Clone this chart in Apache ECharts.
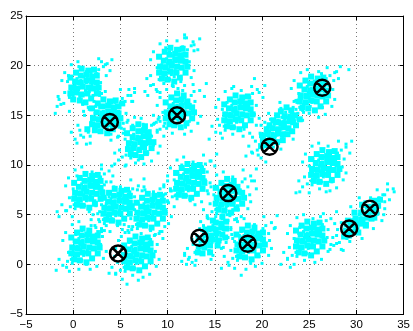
<!DOCTYPE html>
<html>
<head>
<meta charset="utf-8">
<script src="https://cdn.jsdelivr.net/npm/echarts@6/dist/echarts.min.js"></script>
<style>
  html, body { margin: 0; padding: 0; background: #fff; }
  #chart { width: 413px; height: 331px; }
</style>
</head>
<body>
<div id="chart"></div>
<script>
// Axis ticks
const xTicks = [-5, 0, 5, 10, 15, 20, 25, 30, 35];
const yTicks = [-5, 0, 5, 10, 15, 20, 25];

// Cluster centres found by the algorithm (drawn as circled crosses)
const centroids = [
  [3.88, 14.33], [11.0, 15.0], [26.38, 17.77], [20.8, 11.83], [16.43, 7.17],
  [13.37, 2.67], [18.49, 2.07], [4.75, 1.1], [29.23, 3.6], [31.43, 5.6]
];

// Sample points, one array per blob: scattered fringe samples ...
const blobA = [[1.0,18.0],[0.6,17.7],[1.4,18.3],[0.3,17.4],[1.8,18.6],[0.8,18.5],[1.3,17.5],[0.0,17.0],[2.1,19.0],[0.5,18.2],[1.6,17.9],[1.1,18.9],[0.9,17.2],[-0.2,17.6],[2.3,18.4],[1.9,19.3],[0.2,18.1],[1.5,18.7],[0.7,16.9],[2.5,19.2],[-0.4,16.8],[1.2,17.1],[0.4,18.7],[1.7,17.4],[2.0,18.1],[0.1,16.5],[2.7,19.6],[1.4,19.4],[-0.1,17.9],[0.9,18.3],
  [-1.0,16.2],[-1.5,16.6],[3.2,19.9],[3.6,20.2],[2.9,18.3],[-0.6,18.4],[0.2,19.4],[1.9,16.6],[3.0,20.4],[-0.9,17.3],[2.6,17.6],[0.6,19.9],[-1.7,15.9],[1.0,16.1],[3.5,19.0],[-0.5,19.0],[2.8,17.0],
  [-0.9,19.3],[-0.2,20.1],[-1.2,18.5],[3.1,16.7],[2.4,15.9],[3.4,17.4],[0.5,20.4],[1.7,15.6]];
const blobB = [[10.5,20.0],[10.1,19.6],[10.9,20.4],[9.8,19.2],[11.2,20.8],[10.3,20.5],[10.8,19.5],[9.5,18.9],[11.5,21.2],[10.0,20.2],[11.0,19.9],[10.6,21.0],[10.4,19.1],[9.3,19.5],[11.7,20.6],[11.3,21.5],[9.7,20.0],[10.9,21.3],[10.2,18.6],[11.9,21.0],[9.1,18.6],[10.7,18.9],[9.9,20.7],[11.1,19.3],[11.6,21.9],[9.6,18.2],[12.1,21.6],[10.6,20.3],[9.4,20.1],[10.2,21.4],
  [8.5,18.1],[8.8,17.6],[12.5,22.0],[11.8,22.8],[12.3,20.4],[8.9,19.8],[9.8,21.8],[11.4,18.4],[12.8,21.5],[8.2,19.0],[11.0,22.5],[9.2,17.3],[7.9,17.0],[12.7,22.4],[10.5,18.0],[9.0,21.0],[12.0,19.3],
  [8.5,21.4],[9.2,22.2],[8.2,20.6],[12.5,18.8],[11.8,18.0],[12.8,19.5],[9.9,22.5],[11.1,17.7],[11.8,23.1]];
const blobC = [[3.4,14.9],[3.0,14.5],[3.8,15.3],[2.6,14.1],[4.2,15.6],[3.2,15.4],[3.7,14.4],[2.2,13.8],[4.6,16.0],[2.9,15.0],[4.0,14.8],[3.5,15.9],[3.1,13.9],[1.9,14.3],[4.8,15.4],[4.4,16.3],[2.5,14.7],[3.9,16.1],[2.7,13.4],[5.0,16.2],[1.6,13.3],[3.6,13.8],[2.3,15.2],[4.3,14.3],[5.2,16.7],[1.8,12.9],[5.5,16.4],[3.3,16.5],[2.0,14.9],[4.1,15.0],[4.7,14.9],[2.8,15.8],
  [0.8,13.0],[0.2,12.6],[6.1,17.0],[6.3,16.4],[5.6,15.2],[1.2,15.0],[2.2,16.4],[4.0,13.1],[5.9,17.6],[0.5,14.0],[4.9,13.8],[1.4,12.1],[-0.2,13.3],[3.0,17.2],[6.5,17.3],[1.0,16.2],[1.6,15.8],[5.3,14.2],
  [1.4,16.2],[2.1,17.0],[1.1,15.4],[5.4,13.6],[4.7,12.8],[5.7,14.3],[2.8,17.3],[4.0,12.5]];
const blobD = [[7.0,12.4],[6.6,12.0],[7.4,12.8],[6.3,11.6],[7.7,13.2],[6.8,12.9],[7.2,11.9],[6.0,11.3],[8.0,13.4],[6.5,12.6],[7.5,12.3],[7.1,13.5],[6.9,11.4],[5.8,11.9],[7.9,12.8],[7.6,13.8],[6.2,12.3],[7.3,13.1],[6.7,11.0],[8.2,13.0],[5.6,11.0],[7.0,11.7],[6.4,13.1],[7.8,12.1],[6.1,10.7],[8.3,14.0],[7.4,14.1],
  [5.2,10.8],[4.9,11.5],[8.6,14.2],[8.9,13.3],[5.5,12.6],[6.3,14.0],[7.9,11.2],[6.6,10.2],[8.5,12.0],[5.3,13.2],[7.2,14.7],[6.9,10.5],[9.0,14.6],[5.6,10.0],
  [5.1,13.7],[5.8,14.5],[4.8,12.9],[9.0,11.2],[8.3,10.4],[9.2,11.9],[6.5,14.8],[7.5,10.1]];
const blobE = [[11.2,15.5],[10.8,15.1],[11.6,15.9],[10.5,14.7],[11.9,16.2],[11.0,16.0],[11.4,15.0],[10.2,14.4],[12.2,16.5],[10.7,15.6],[11.7,15.4],[11.3,16.5],[11.1,14.5],[10.0,15.0],[12.0,15.8],[11.8,16.8],[10.4,15.4],[11.5,16.3],[10.9,14.0],[12.4,16.1],[9.7,14.2],[11.2,14.8],[10.6,16.2],[12.1,15.2],[9.9,13.7],[12.5,17.0],
  [9.2,13.6],[8.8,14.3],[12.8,17.4],[12.9,16.4],[9.5,15.3],[10.3,16.8],[12.3,14.4],[10.5,13.2],[11.6,17.5],[9.1,14.8],[12.6,15.5],[9.8,16.3],[11.9,13.8],
  [9.2,16.8],[9.9,17.6],[8.9,16.0],[13.2,14.2],[12.5,13.4],[13.5,14.9],[10.6,17.9],[11.8,13.1]];
const blobF = [[17.4,15.3],[17.0,14.9],[17.8,15.7],[16.7,14.5],[18.1,16.0],[17.2,15.8],[17.6,14.8],[16.4,14.2],[18.4,16.3],[16.9,15.4],[17.9,15.2],[17.5,16.3],[17.3,14.3],[16.2,14.8],[18.2,15.6],[18.0,16.6],[16.6,15.2],[17.7,16.1],[17.1,13.8],[18.6,15.9],[16.0,13.9],[17.4,14.6],[16.8,16.0],[18.3,15.0],[16.1,13.5],[18.7,16.8],
  [15.6,13.2],[15.3,14.6],[19.0,17.2],[19.4,16.0],[15.8,15.6],[16.5,16.7],[18.8,14.4],[16.9,13.1],[17.8,17.5],[15.5,14.0],[19.2,15.1],[16.3,16.3],[18.1,13.6],[17.0,17.9],[19.5,17.6],[19.2,18.7],
  [15.4,16.6],[16.1,17.4],[15.1,15.8],[19.4,14.0],[18.7,13.2],[19.7,14.7],[16.8,17.7],[18.0,12.9]];
const blobG = [[21.5,13.6],[21.1,13.2],[21.9,14.0],[20.7,12.8],[22.3,14.4],[21.3,14.1],[21.8,13.3],[20.4,12.3],[22.6,14.8],[21.0,13.7],[22.0,13.6],[21.7,14.5],[21.4,12.9],[20.2,12.9],[22.4,14.0],[22.9,15.0],[20.8,13.4],[22.1,14.8],[20.9,12.2],[23.1,15.4],[19.9,12.0],[21.6,13.0],[20.6,13.8],[22.7,14.3],[20.1,11.7],[23.3,15.8],[22.5,15.3],
  [19.5,11.5],[19.3,12.4],[23.7,16.3],[23.8,15.2],[19.8,13.2],[20.9,14.6],[22.9,13.6],[21.2,11.8],[22.0,15.7],[19.6,11.0],[23.4,14.6],[20.3,14.3],[22.2,12.7],[18.9,11.3],[24.0,16.6],
  [19.9,14.0],[20.7,15.2],[21.9,16.3],[22.0,11.6],[23.3,12.6],[24.3,14.5],[19.0,12.8],[24.1,15.6]];
const blobH = [[25.4,17.2],[25.0,16.8],[25.8,17.6],[24.7,16.4],[26.1,17.9],[25.2,17.7],[25.7,16.9],[24.4,16.1],[26.4,18.3],[24.9,17.3],[25.9,17.1],[25.5,18.2],[25.3,16.3],[24.2,16.7],[26.2,17.5],[26.0,18.6],[24.6,17.1],[25.7,18.0],[25.1,15.9],[26.6,17.8],[24.0,15.8],[25.4,16.6],[24.8,17.9],[26.3,16.9],[24.3,15.5],[26.8,18.7],[26.7,18.5],
  [23.6,15.6],[23.4,16.4],[27.2,19.0],[27.6,18.5],[23.9,17.2],[24.5,18.4],[26.9,16.5],[25.0,15.2],[26.0,19.4],[23.3,15.1],[27.5,17.6],[24.1,18.0],[26.4,15.8],[27.9,19.4],[29.2,19.6],[26.3,19.2],
  [23.4,18.5],[24.1,19.3],[23.1,17.7],[27.4,15.9],[26.7,15.1],[27.7,16.6],[24.8,19.6],[26.0,14.8]];
const blobI = [[26.6,9.8],[26.2,9.4],[27.0,10.2],[25.9,9.0],[27.3,10.5],[26.4,10.3],[26.9,9.3],[25.6,8.7],[27.6,10.8],[26.1,9.9],[27.1,9.7],[26.7,10.8],[26.5,8.8],[25.4,9.3],[27.4,10.1],[27.2,11.1],[25.8,9.7],[26.9,10.6],[26.3,8.3],[27.8,10.4],[25.2,8.4],[26.6,9.1],[26.0,10.5],[27.5,9.5],[25.3,8.0],[28.0,11.2],
  [24.8,8.1],[24.5,8.8],[28.4,11.5],[28.7,10.6],[25.0,9.9],[25.7,11.0],[28.1,9.1],[26.1,7.6],[27.0,11.9],[24.0,7.3],[28.5,9.8],[25.4,10.6],[27.4,8.3],[28.9,12.1],[26.8,7.3],
  [24.6,11.1],[25.3,11.9],[24.3,10.3],[28.6,8.5],[27.9,7.7],[28.9,9.2],[26.0,12.2],[27.2,7.4]];
const blobJ = [[25.0,2.6],[24.6,2.2],[25.4,3.0],[24.3,1.8],[25.7,3.3],[24.8,3.1],[25.3,2.1],[24.0,1.5],[26.0,3.6],[24.5,2.7],[25.5,2.5],[25.1,3.6],[24.9,1.6],[23.8,2.1],[25.8,2.9],[25.6,3.9],[24.2,2.5],[25.3,3.4],[24.7,1.1],[26.2,3.2],[23.6,1.2],[25.0,1.9],[24.4,3.3],[25.9,2.3],[23.7,0.8],[26.4,4.0],
  [23.2,0.9],[22.9,1.7],[26.8,4.4],[27.0,3.5],[23.4,2.6],[24.0,3.7],[26.5,1.8],[24.5,0.4],[25.4,4.6],[22.7,0.5],[26.9,2.7],[23.9,3.1],[25.9,1.2],[23.0,-0.3],[26.2,4.8],
  [23.0,3.9],[23.7,4.7],[22.7,3.1],[27.0,1.3],[26.3,0.5],[27.3,2.0],[24.4,5.0],[25.6,0.2]];
const blobK = [[30.5,4.7],[30.1,4.2],[30.9,5.1],[29.7,3.8],[31.3,5.5],[30.3,5.0],[30.8,4.4],[29.4,3.4],[31.6,5.9],[30.0,4.6],[31.0,4.8],[30.6,5.4],[30.4,4.0],[29.2,3.9],[31.4,5.2],[31.9,6.1],[29.8,4.3],[31.1,5.8],[29.9,3.3],[32.1,6.4],[28.9,3.1],[30.7,4.1],[29.6,4.5],[31.7,5.3],[29.0,2.6],[32.4,6.7],[28.6,2.8],[32.0,5.7],
  [28.2,2.2],[27.9,2.9],[32.8,7.0],[33.0,6.3],[28.8,3.9],[29.8,5.2],[32.3,5.1],[30.2,3.1],[31.5,6.7],[27.6,1.9],[33.3,7.5],[29.3,2.3],[30.9,6.3],[33.9,7.6],[28.4,1.5],[31.9,4.6],[32.9,5.0],[33.3,8.1],
  [28.4,4.2],[29.4,5.8],[30.3,6.7],[30.6,2.6],[31.8,3.6],[32.7,4.4],[28.0,3.5],[33.0,5.6]];
const blobL = [[1.2,1.9],[0.8,1.5],[1.6,2.3],[0.5,1.1],[1.9,2.6],[1.0,2.4],[1.5,1.4],[0.2,0.8],[2.2,2.9],[0.7,2.0],[1.7,1.8],[1.3,2.9],[1.1,0.9],[0.0,1.4],[2.0,2.2],[1.8,3.2],[0.4,1.8],[1.5,2.7],[0.9,0.4],[2.4,2.5],[-0.2,0.5],[1.2,1.2],[0.6,2.6],[2.1,1.6],[-0.1,0.1],[2.6,3.3],
  [-0.6,0.3],[-0.5,1.2],[3.0,3.6],[3.1,2.8],[0.1,2.3],[0.9,3.4],[2.6,1.2],[1.4,0.0],[1.9,3.9],[-0.7,-0.3],[2.9,2.0],[0.3,3.0],[2.0,0.6],[0.6,-0.5],[3.3,3.4],
  [-0.8,3.2],[-0.1,4.0],[-1.1,2.4],[3.2,0.6],[2.5,-0.2],[3.5,1.3],[0.6,4.3],[1.8,-0.5]];
const blobM = [[6.8,1.1],[6.4,0.7],[7.2,1.5],[6.1,0.3],[7.5,1.8],[6.6,1.6],[7.1,0.6],[5.8,0.0],[7.8,2.1],[6.3,1.2],[7.3,1.0],[6.9,2.1],[6.7,0.1],[5.6,0.6],[7.6,1.4],[7.4,2.4],[6.0,1.0],[7.1,1.9],[6.5,-0.4],[8.0,1.7],[5.4,-0.3],[6.8,0.4],[6.2,1.8],[7.7,0.8],[5.5,-0.7],[8.2,2.5],[7.9,2.6],
  [5.0,-0.6],[4.7,0.2],[8.6,2.9],[8.9,2.0],[5.2,1.1],[5.9,2.2],[8.3,0.6],[6.3,-1.1],[7.2,3.1],[4.5,-1.0],[8.7,1.3],[5.7,1.6],[7.7,-0.3],[5.7,-2.0],[9.2,3.3],[6.9,-1.6],[4.4,0.8],
  [4.8,2.4],[5.5,3.2],[4.5,1.6],[8.8,-0.2],[8.1,-1.0],[9.1,0.5],[6.2,3.5],[7.4,-1.3]];
const blobN = [[1.5,7.4],[1.1,7.0],[1.9,7.8],[0.8,6.6],[2.2,8.1],[1.3,7.9],[1.8,6.9],[0.5,6.3],[2.5,8.4],[1.0,7.5],[2.0,7.3],[1.6,8.4],[1.4,6.4],[0.3,6.9],[2.3,7.7],[2.1,8.7],[0.7,7.3],[1.8,8.2],[1.2,5.9],[2.7,8.0],[0.1,6.0],[1.5,6.7],[0.9,8.1],[2.4,7.0],[0.2,5.6],[2.9,8.8],
  [-0.3,5.8],[-0.4,6.7],[3.3,9.1],[3.5,8.3],[0.0,7.6],[0.6,8.6],[2.8,6.5],[1.7,5.3],[2.0,9.3],[-0.7,5.4],[3.2,7.4],[0.4,8.9],[2.4,5.9],[-1.7,5.3],[3.0,9.6],
  [-0.5,8.7],[0.2,9.5],[-0.8,7.9],[3.5,6.1],[2.8,5.3],[3.8,6.8],[0.9,9.8],[2.1,5.0]];
const blobO = [[4.6,5.9],[4.2,5.5],[5.0,6.3],[3.9,5.1],[5.3,6.6],[4.4,6.4],[4.9,5.4],[3.6,4.8],[5.6,6.9],[4.1,6.0],[5.1,5.8],[4.7,6.9],[4.5,4.9],[3.4,5.4],[5.4,6.2],[5.2,7.2],[3.8,5.8],[4.9,6.7],[4.3,4.4],[5.8,6.5],[3.2,4.5],[4.6,5.2],[4.0,6.6],[5.5,5.5],[3.3,4.1],[6.0,7.3],
  [2.8,4.3],[2.6,5.1],[6.3,7.6],[6.5,6.8],[3.0,6.0],[3.7,7.1],[6.0,5.2],[4.7,3.9],[5.0,7.8],[2.4,3.7],[6.3,6.0],[3.4,6.7],[5.4,4.5],[4.3,7.8],[2.9,3.3],
  [2.6,7.2],[3.3,8.0],[2.3,6.4],[6.6,4.6],[5.9,3.8],[6.9,5.3],[4.0,8.3],[5.2,3.5]];
const blobP = [[8.1,5.4],[7.7,5.0],[8.5,5.8],[7.4,4.6],[8.8,6.1],[7.9,5.9],[8.4,4.9],[7.1,4.3],[9.1,6.4],[7.6,5.5],[8.6,5.3],[8.2,6.4],[8.0,4.4],[6.9,4.9],[8.9,5.7],[8.7,6.7],[7.3,5.3],[8.4,6.2],[7.8,3.9],[9.3,6.0],[6.7,4.0],[8.1,4.7],[7.5,6.1],[9.0,5.0],[6.8,3.6],[9.5,6.8],
  [6.3,3.8],[6.1,4.6],[9.8,7.1],[10.0,6.3],[6.5,5.5],[7.2,6.6],[9.5,4.7],[8.2,3.4],[8.5,7.3],[5.9,3.2],[9.8,5.5],[6.9,6.2],[8.9,4.0],[10.3,7.4],[7.6,7.5],[9.6,7.8],[10.0,8.4],[9.2,7.6],
  [6.1,6.7],[6.8,7.5],[5.8,5.9],[10.1,4.1],[9.4,3.3],[10.4,4.8],[7.5,7.8],[8.7,3.0]];
const blobQ = [[12.3,8.4],[11.9,8.0],[12.7,8.8],[11.6,7.6],[13.0,9.1],[12.1,8.9],[12.6,7.9],[11.3,7.3],[13.3,9.4],[11.8,8.5],[12.8,8.3],[12.4,9.4],[12.2,7.4],[11.1,7.9],[13.1,8.7],[12.9,9.7],[11.5,8.3],[12.6,9.2],[12.0,6.9],[13.5,9.0],[10.9,7.0],[12.3,7.7],[11.7,9.1],[13.2,8.0],[11.0,6.6],[13.7,9.8],
  [10.5,6.8],[10.3,7.6],[14.0,10.1],[14.2,9.3],[10.7,8.5],[11.4,9.6],[13.7,7.7],[12.4,6.4],[12.7,10.3],[10.1,6.2],[14.0,8.5],[11.1,9.2],[13.1,7.0],[14.5,10.4],[11.5,10.0],
  [10.3,9.7],[11.0,10.5],[10.0,8.9],[14.3,7.1],[13.6,6.3],[14.6,7.8],[11.7,10.8],[12.9,6.0]];
const blobR = [[16.5,6.9],[16.1,6.5],[16.9,7.3],[15.8,6.1],[17.2,7.6],[16.3,7.4],[16.8,6.4],[15.5,5.8],[17.5,7.9],[16.0,7.0],[17.0,6.8],[16.6,7.9],[16.4,5.9],[15.3,6.4],[17.3,7.2],[17.1,8.2],[15.7,6.8],[16.8,7.7],[16.2,5.4],[17.7,7.5],[15.1,5.5],[16.5,6.2],[15.9,7.6],[17.4,6.5],[15.2,5.1],[17.9,8.3],
  [14.7,5.3],[14.5,6.1],[18.2,8.6],[18.5,7.8],[14.9,7.0],[15.6,8.1],[18.0,6.2],[16.6,4.9],[16.9,8.8],[14.2,4.7],[18.7,7.0],[15.3,7.7],[17.5,5.5],[19.4,7.6],[18.9,8.4],
  [14.5,8.2],[15.2,9.0],[14.2,7.4],[18.5,5.6],[17.8,4.8],[18.8,6.3],[15.9,9.3],[17.1,4.5]];
const blobS = [[14.7,2.9],[14.3,2.5],[15.1,3.3],[14.0,2.1],[15.4,3.6],[14.5,3.4],[15.0,2.4],[13.7,1.8],[15.7,3.9],[14.2,3.0],[15.2,2.8],[14.8,3.9],[14.6,1.9],[13.5,2.4],[15.5,3.2],[15.3,4.2],[13.9,2.8],[15.0,3.7],[14.4,1.4],[15.9,3.5],[13.3,1.5],[14.7,2.2],[14.1,3.6],[15.6,2.5],[13.4,1.1],[16.1,4.3],[15.8,4.6],[16.3,5.0],
  [12.9,1.2],[12.7,2.0],[16.4,4.4],[16.7,3.7],[13.1,2.9],[13.8,3.9],[16.2,2.2],[14.8,0.9],[15.1,4.8],[12.3,0.7],[16.8,3.0],[13.6,3.4],[15.7,1.6],[12.1,1.6],[12.6,0.2],[16.9,5.5],[11.8,0.9],
  [12.6,2.5],[13.4,3.6],[14.3,4.6],[14.6,0.5],[15.9,1.7],[16.9,2.6],[12.0,0.0],[13.0,0.4]];
const blobT = [[18.7,2.2],[18.3,1.8],[19.1,2.6],[18.0,1.4],[19.4,2.9],[18.5,2.7],[19.0,1.7],[17.7,1.1],[19.7,3.2],[18.2,2.3],[19.2,2.1],[18.8,3.2],[18.6,1.2],[17.5,1.7],[19.5,2.5],[19.3,3.5],[17.9,2.1],[19.0,3.0],[18.4,0.7],[19.9,2.8],[17.3,0.8],[18.7,1.5],[18.1,2.9],[19.6,1.8],[17.4,0.4],[20.1,3.6],
  [16.9,0.6],[16.7,1.4],[20.4,3.9],[20.7,3.1],[17.1,2.3],[17.8,3.3],[20.2,1.5],[18.8,0.1],[19.2,4.0],[16.5,-0.1],[20.8,2.4],[17.6,2.9],[19.7,0.8],[17.8,-1.1],[21.3,3.6],[18.3,-0.5],
  [16.7,3.5],[17.4,4.3],[16.4,2.7],[20.7,0.9],[20.0,0.1],[21.0,1.6],[18.1,4.6],[19.3,-0.2]];

// Far-flung samples at the tips of each blob
const strays = [
  [-1.3,16.1],[-1.6,16.9],[-0.4,15.4],[3.4,20.1],[3.9,19.5],[2.7,20.7],[-1.9,15.2],[4.1,20.6],
  [8.2,18.0],[7.8,18.7],[8.9,17.4],[12.8,22.1],[13.2,21.6],[12.0,22.8],[7.6,17.4],[13.4,22.7],
  [1.1,12.8],[0.7,13.5],[1.8,12.2],[5.8,17.0],[6.2,16.4],[5.0,17.6],[0.4,12.2],[6.5,17.7],
  [4.8,10.5],[4.4,11.2],[5.5,9.9],[9.2,14.4],[9.6,13.9],[8.5,15.0],[4.1,9.9],[9.9,15.1],
  [8.9,13.5],[8.5,14.1],[9.6,12.9],[13.4,17.5],[13.9,16.9],[12.7,18.1],[8.3,12.9],[14.1,18.2],
  [15.1,13.3],[14.7,13.9],[15.8,12.7],[19.7,17.3],[20.1,16.8],[18.9,17.9],[14.4,12.6],[20.3,18.0],
  [19.0,11.2],[18.6,11.9],[19.9,10.7],[24.4,15.3],[23.6,16.5],[18.3,10.9],[20.4,10.3],[24.8,16.2],
  [23.1,15.2],[22.7,15.8],[23.8,14.6],[27.7,19.3],[28.1,18.7],[26.9,19.8],[22.4,14.6],[28.3,19.9],
  [24.3,7.8],[23.9,8.4],[25.0,7.2],[28.9,11.8],[29.3,11.2],[28.1,12.4],[23.6,7.2],[29.5,12.4],
  [22.7,0.6],[22.3,1.2],[23.4,0.0],[27.3,4.6],[27.7,4.1],[26.5,5.1],[22.0,0.0],[27.9,5.3],
  [27.9,2.1],[27.5,2.7],[28.6,1.4],[33.0,7.0],[33.5,6.5],[32.2,7.5],[27.2,1.5],[34.0,7.3],
  [-1.1,-0.1],[-1.5,0.5],[-0.4,-0.7],[3.5,3.9],[3.9,3.3],[2.7,4.5],[-1.8,-0.6],[4.1,4.6],
  [4.5,-0.9],[4.1,-0.3],[5.2,-1.5],[9.1,3.1],[9.5,2.6],[8.3,3.7],[3.8,-0.9],[9.7,3.8],
  [-0.8,5.4],[-1.2,6.0],[-0.1,4.8],[3.8,9.4],[4.2,8.9],[3.0,10.0],[-1.5,4.8],[4.4,10.1],
  [2.3,3.9],[1.9,4.5],[3.0,3.3],[6.9,7.9],[7.3,7.4],[6.1,8.5],[1.6,3.3],[7.5,8.6],
  [5.8,3.4],[5.4,4.0],[6.5,2.8],[10.4,7.4],[10.8,6.9],[9.6,8.0],[5.1,2.8],[11.0,8.1],
  [10.0,6.4],[9.6,7.0],[10.7,5.8],[14.6,10.4],[15.0,9.9],[13.8,11.0],[9.3,5.8],[15.2,11.1],
  [14.2,4.9],[13.8,5.5],[14.9,4.3],[18.8,8.9],[19.2,8.4],[18.0,9.5],[13.5,4.3],[19.4,9.6],
  [12.2,0.5],[11.8,1.1],[12.9,-0.1],[16.9,5.2],[17.3,4.6],[16.2,5.8],[11.5,0.3],[17.4,5.9],
  [16.4,0.2],[16.0,0.8],[17.1,-0.4],[21.0,4.2],[21.4,3.7],[20.2,4.8],[15.7,-0.4],[21.6,4.9]
];

// ... and the densely packed middle of each blob
const coreA = [[0.0,16.6],[0.7,16.5],[-0.3,17.2],[0.3,17.3],[0.9,17.1],[1.5,17.2],[-0.2,17.8],[0.4,17.7],[1.0,17.9],[1.6,17.8],[2.1,17.7],[0.2,18.4],[0.8,18.3],[1.4,18.5],[2.0,18.4],[2.5,18.3],[0.8,19.0],[1.4,19.1],[2.0,18.9],[2.5,19.0],[1.6,19.5],[2.2,19.6],
  [-0.3,18.8],[0.3,19.3],[0.9,19.7],[2.5,17.2],[1.9,16.7],[1.3,16.3],[2.7,17.8]];
const coreB = [[9.4,18.7],[10.0,18.6],[9.1,19.3],[9.7,19.2],[10.3,19.4],[10.9,19.3],[9.2,19.9],[9.8,19.8],[10.4,20.0],[11.0,19.9],[11.5,19.8],[9.6,20.5],[10.2,20.4],[10.8,20.6],[11.4,20.5],[11.9,20.4],[10.2,21.1],[10.8,21.2],[11.4,21.0],[11.9,21.1],[11.0,21.6],[11.6,21.7],
  [9.1,20.9],[9.7,21.4],[10.3,21.8],[11.9,19.3],[11.3,18.8],[10.7,18.4],[12.1,19.9]];
const coreC = [[2.3,13.5],[2.9,13.4],[2.0,14.1],[2.6,14.0],[3.2,14.2],[3.8,14.1],[2.1,14.7],[2.7,14.6],[3.3,14.8],[3.9,14.7],[4.4,14.6],[2.5,15.3],[3.1,15.2],[3.7,15.4],[4.3,15.3],[4.8,15.2],[3.1,15.9],[3.7,16.0],[4.3,15.8],[4.8,15.9],[3.9,16.4],[4.5,16.5],[1.5,13.6],[5.2,16.2],[4.4,14.0],
  [2.0,15.7],[2.6,16.2],[3.2,16.6],[4.8,14.1],[4.2,13.6],[3.6,13.2],[5.0,14.7]];
const coreD = [[6.1,11.1],[6.6,11.0],[5.8,11.6],[6.4,11.7],[7.0,11.5],[7.5,11.8],[5.9,12.2],[6.5,12.1],[7.1,12.3],[7.6,12.2],[8.0,12.3],[6.3,12.8],[6.9,12.7],[7.5,12.9],[8.0,12.8],[6.9,13.4],[7.5,13.5],[8.0,13.3],[7.6,13.9],
  [5.7,13.2],[6.3,13.7],[6.9,14.1],[8.3,11.7],[7.7,11.2],[7.2,10.8],[8.5,12.3]];
const coreE = [[10.2,14.1],[10.7,14.0],[9.8,14.7],[10.4,14.6],[11.0,14.8],[11.6,14.7],[9.9,15.3],[10.5,15.2],[11.1,15.4],[11.7,15.3],[12.2,15.2],[10.3,15.9],[10.9,15.8],[11.5,16.0],[12.1,15.9],[12.6,15.8],[10.9,16.5],[11.5,16.6],[12.1,16.4],[11.7,17.0],
  [9.8,16.3],[10.4,16.8],[11.0,17.2],[12.6,14.7],[12.0,14.2],[11.4,13.8],[12.8,15.3]];
const coreF = [[16.3,13.9],[16.9,13.8],[16.0,14.5],[16.6,14.4],[17.2,14.6],[17.8,14.5],[16.1,15.1],[16.7,15.0],[17.3,15.2],[17.9,15.1],[18.4,15.0],[16.5,15.7],[17.1,15.6],[17.7,15.8],[18.3,15.7],[18.8,15.6],[17.1,16.3],[17.7,16.4],[18.3,16.2],[18.8,16.3],[17.9,16.8],[18.5,16.9],
  [16.0,16.1],[16.6,16.6],[17.2,17.0],[18.8,14.5],[18.2,14.0],[17.6,13.6],[19.0,15.1]];
const coreG = [[19.9,11.9],[20.4,12.0],[20.1,12.5],[20.7,12.4],[21.2,12.6],[20.6,13.1],[21.2,13.0],[21.7,13.2],[22.2,13.1],[21.1,13.7],[21.7,13.6],[22.3,13.8],[22.8,13.7],[21.7,14.3],[22.3,14.2],[22.9,14.4],[23.3,14.3],[22.4,14.9],[23.0,14.8],[23.5,15.0],[23.1,15.5],
  [20.5,13.6],[21.2,14.5],[22.0,15.4],[21.6,12.3],[22.7,13.1],[23.6,14.0],
  [22.2,12.5],[23.2,13.4],[24.0,14.6],[20.0,13.0],[20.8,14.0],[21.6,15.0],[22.6,15.8]];
const coreH = [[24.3,15.8],[24.9,15.7],[24.0,16.4],[24.6,16.3],[25.2,16.5],[25.8,16.4],[24.1,17.0],[24.7,16.9],[25.3,17.1],[25.9,17.0],[26.4,16.9],[24.5,17.6],[25.1,17.5],[25.7,17.7],[26.3,17.6],[26.8,17.5],[25.1,18.2],[25.7,18.3],[26.3,18.1],[26.8,18.2],[25.9,18.7],[26.5,18.8],
  [24.0,18.0],[24.6,18.5],[25.2,18.9],[26.8,16.4],[26.2,15.9],[25.6,15.5],[27.0,17.0]];
const coreI = [[25.5,8.4],[26.1,8.3],[25.2,9.0],[25.8,8.9],[26.4,9.1],[27.0,9.0],[25.3,9.6],[25.9,9.5],[26.5,9.7],[27.1,9.6],[27.6,9.5],[25.7,10.2],[26.3,10.1],[26.9,10.3],[27.5,10.2],[28.0,10.1],[26.3,10.8],[26.9,10.9],[27.5,10.7],[28.0,10.8],[27.1,11.3],[27.7,11.4],
  [25.2,10.6],[25.8,11.1],[26.4,11.5],[28.0,9.0],[27.4,8.5],[26.8,8.1],[28.2,9.6]];
const coreJ = [[23.9,1.2],[24.5,1.1],[23.6,1.8],[24.2,1.7],[24.8,1.9],[25.4,1.8],[23.7,2.4],[24.3,2.3],[24.9,2.5],[25.5,2.4],[26.0,2.3],[24.1,3.0],[24.7,2.9],[25.3,3.1],[25.9,3.0],[26.4,2.9],[24.7,3.6],[25.3,3.7],[25.9,3.5],[26.4,3.6],[25.5,4.1],[26.1,4.2],
  [23.6,3.4],[24.2,3.9],[24.8,4.3],[26.4,1.8],[25.8,1.3],[25.2,0.9],[26.6,2.4]];
const coreK = [[28.7,2.8],[29.2,2.9],[28.9,3.4],[29.5,3.3],[30.0,3.5],[29.4,4.0],[30.0,3.9],[30.5,4.1],[31.0,4.0],[29.9,4.6],[30.5,4.5],[31.1,4.7],[31.6,4.6],[30.5,5.2],[31.1,5.1],[31.7,5.3],[32.1,5.2],[31.2,5.8],[31.8,5.7],[32.3,5.9],[31.9,6.4],[32.5,6.5],
  [29.1,4.4],[29.8,5.2],[30.6,6.0],[30.2,3.2],[31.0,3.9],[31.9,4.7]];
const coreL = [[0.1,0.5],[0.7,0.4],[-0.2,1.1],[0.4,1.0],[1.0,1.2],[1.6,1.1],[-0.1,1.7],[0.5,1.6],[1.1,1.8],[1.7,1.7],[2.2,1.6],[0.3,2.3],[0.9,2.2],[1.5,2.4],[2.1,2.3],[2.6,2.2],[0.9,2.9],[1.5,3.0],[2.1,2.8],[2.6,2.9],[1.7,3.4],
  [-0.2,2.7],[0.4,3.2],[1.0,3.6],[2.6,1.1],[2.0,0.6],[1.4,0.2],[2.8,1.7]];
const coreM = [[5.7,-0.3],[6.3,-0.4],[5.4,0.3],[6.0,0.2],[6.6,0.4],[7.2,0.3],[5.5,0.9],[6.1,0.8],[6.7,1.0],[7.3,0.9],[7.8,0.8],[5.9,1.5],[6.5,1.4],[7.1,1.6],[7.7,1.5],[8.2,1.4],[6.5,2.1],[7.1,2.2],[7.7,2.0],[8.2,2.1],[7.3,2.6],[7.9,2.7],
  [5.4,1.9],[6.0,2.4],[6.6,2.8],[8.2,0.3],[7.6,-0.2],[7.0,-0.6],[8.4,0.9]];
const coreN = [[0.4,6.0],[1.0,5.9],[0.1,6.6],[0.7,6.5],[1.3,6.7],[1.9,6.6],[0.2,7.2],[0.8,7.1],[1.4,7.3],[2.0,7.2],[2.5,7.1],[0.6,7.8],[1.2,7.7],[1.8,7.9],[2.4,7.8],[2.9,7.7],[1.2,8.4],[1.8,8.5],[2.4,8.3],[2.9,8.4],[2.0,8.9],[2.6,9.0],
  [0.1,8.2],[0.7,8.7],[1.3,9.1],[2.9,6.6],[2.3,6.1],[1.7,5.7],[3.1,7.2]];
const coreO = [[3.5,4.5],[4.1,4.4],[3.2,5.1],[3.8,5.0],[4.4,5.2],[5.0,5.1],[3.3,5.7],[3.9,5.6],[4.5,5.8],[5.1,5.7],[5.6,5.6],[3.7,6.3],[4.3,6.2],[4.9,6.4],[5.5,6.3],[6.0,6.2],[4.3,6.9],[4.9,7.0],[5.5,6.8],[6.0,6.9],[5.1,7.4],[5.7,7.5],
  [3.2,6.7],[3.8,7.2],[4.4,7.6],[6.0,5.1],[5.4,4.6],[4.8,4.2],[6.2,5.7]];
const coreP = [[7.0,4.0],[7.6,3.9],[6.7,4.6],[7.3,4.5],[7.9,4.7],[8.5,4.6],[6.8,5.2],[7.4,5.1],[8.0,5.3],[8.6,5.2],[9.1,5.1],[7.2,5.8],[7.8,5.7],[8.4,5.9],[9.0,5.8],[9.5,5.7],[7.8,6.4],[8.4,6.5],[9.0,6.3],[9.5,6.4],[8.6,6.9],[9.2,7.0],
  [6.7,6.2],[7.3,6.7],[7.9,7.1],[9.5,4.6],[8.9,4.1],[8.3,3.7],[9.7,5.2]];
const coreQ = [[11.2,7.0],[11.8,6.9],[10.9,7.6],[11.5,7.5],[12.1,7.7],[12.7,7.6],[11.0,8.2],[11.6,8.1],[12.2,8.3],[12.8,8.2],[13.3,8.1],[11.4,8.8],[12.0,8.7],[12.6,8.9],[13.2,8.8],[13.7,8.7],[12.0,9.4],[12.6,9.5],[13.2,9.3],[13.7,9.4],[12.8,9.9],[13.4,10.0],
  [10.9,9.2],[11.5,9.7],[12.1,10.1],[13.7,7.6],[13.1,7.1],[12.5,6.7],[13.9,8.2]];
const coreR = [[15.4,5.5],[16.0,5.4],[15.1,6.1],[15.7,6.0],[16.3,6.2],[16.9,6.1],[15.2,6.7],[15.8,6.6],[16.4,6.8],[17.0,6.7],[17.5,6.6],[15.6,7.3],[16.2,7.2],[16.8,7.4],[17.4,7.3],[17.9,7.2],[16.2,7.9],[16.8,8.0],[17.4,7.8],[17.0,8.4],
  [15.1,7.7],[15.7,8.2],[16.3,8.6],[17.9,6.1],[17.3,5.6],[16.7,5.2],[18.1,6.7]];
const coreS = [[13.2,1.2],[13.7,1.1],[13.3,1.8],[13.9,1.7],[14.5,1.9],[13.6,2.4],[14.2,2.3],[14.8,2.5],[15.4,2.4],[14.0,3.0],[14.6,2.9],[15.2,3.1],[15.8,3.0],[14.5,3.6],[15.1,3.5],[15.7,3.7],[16.2,3.6],[15.1,4.2],[15.7,4.1],[16.2,4.3],[15.8,4.8],
  [13.3,2.6],[14.0,3.5],[14.8,4.4],[14.5,1.2],[15.3,1.9],[16.1,2.7]];
const coreT = [[17.6,0.8],[18.2,0.7],[17.3,1.4],[17.9,1.3],[18.5,1.5],[19.1,1.4],[17.4,2.0],[18.0,1.9],[18.6,2.1],[19.2,2.0],[19.7,1.9],[17.8,2.6],[18.4,2.5],[19.0,2.7],[19.6,2.6],[20.1,2.5],[18.4,3.2],[19.0,3.3],[19.6,3.1],[20.1,3.2],[19.2,3.7],
  [17.3,3.0],[17.9,3.5],[18.5,3.9],[20.1,1.4],[19.5,0.9],[18.9,0.5],[20.3,2.0]];

const fringePoints = [].concat(blobA, blobB, blobC, blobD, blobE, blobF, blobG, blobH, blobI, blobJ,
  blobK, blobL, blobM, blobN, blobO, blobP, blobQ, blobR, blobS, blobT, strays);
const corePoints = [].concat(coreA, coreB, coreC, coreD, coreE, coreF, coreG, coreH, coreI, coreJ,
  coreK, coreL, coreM, coreN, coreO, coreP, coreQ, coreR, coreS, coreT);

// Circle with a diagonal cross inside
const circledCross = 'path://M10,0A10,10,0,1,1,10,20A10,10,0,1,1,10,0Z' +
  'M2.93,2.93L17.07,17.07M17.07,2.93L2.93,17.07';

const fmt = v => String(v).replace('-', '\u2212');
const labelFont = { fontFamily: 'Liberation Sans, Arial, Helvetica, sans-serif', fontSize: 11.5, color: '#000' };
const dotted = { color: '#777', width: 1, type: [1, 3] };
const frame = { show: true, onZero: false, lineStyle: { color: '#000', width: 1 } };
const innerTicks = { show: true, inside: true, length: 4, lineStyle: { color: '#000' } };

const chart = echarts.init(document.getElementById('chart'), null, { renderer: 'canvas' });
chart.setOption({
  animation: false,
  backgroundColor: '#fff',
  grid: { left: 26, top: 16, width: 382, height: 300 },
  xAxis: [
    {
      type: 'value', min: xTicks[0], max: xTicks[xTicks.length - 1], interval: 5,
      axisLine: frame, axisTick: innerTicks,
      axisLabel: Object.assign({ margin: 5, formatter: fmt, showMinLabel: true, showMaxLabel: true }, labelFont),
      splitLine: { show: true, lineStyle: dotted }
    },
    {
      type: 'value', position: 'top', min: xTicks[0], max: xTicks[xTicks.length - 1], interval: 5,
      axisLine: frame, axisTick: innerTicks,
      axisLabel: { show: false }, splitLine: { show: false }
    }
  ],
  yAxis: [
    {
      type: 'value', min: yTicks[0], max: yTicks[yTicks.length - 1], interval: 5,
      axisLine: frame, axisTick: innerTicks,
      axisLabel: Object.assign({ margin: 3, formatter: fmt, showMinLabel: true, showMaxLabel: true }, labelFont),
      splitLine: { show: true, lineStyle: dotted }
    },
    {
      type: 'value', position: 'right', min: yTicks[0], max: yTicks[yTicks.length - 1], interval: 5,
      axisLine: frame, axisTick: innerTicks,
      axisLabel: { show: false }, splitLine: { show: false }
    }
  ],
  series: [
    {
      type: 'scatter', data: corePoints, symbol: 'rect', symbolSize: 6,
      itemStyle: { color: '#00ffff', opacity: 1 }, silent: true, z: 2
    },
    {
      type: 'scatter', data: fringePoints, symbol: 'rect', symbolSize: 3,
      itemStyle: { color: '#00ffff', opacity: 1 }, silent: true, z: 2
    },
    {
      type: 'scatter', data: centroids, symbol: circledCross, symbolSize: 16,
      itemStyle: { color: 'transparent', borderColor: '#000', borderWidth: 2.5, opacity: 1 },
      silent: true, z: 5
    }
  ]
});
</script>
</body>
</html>
